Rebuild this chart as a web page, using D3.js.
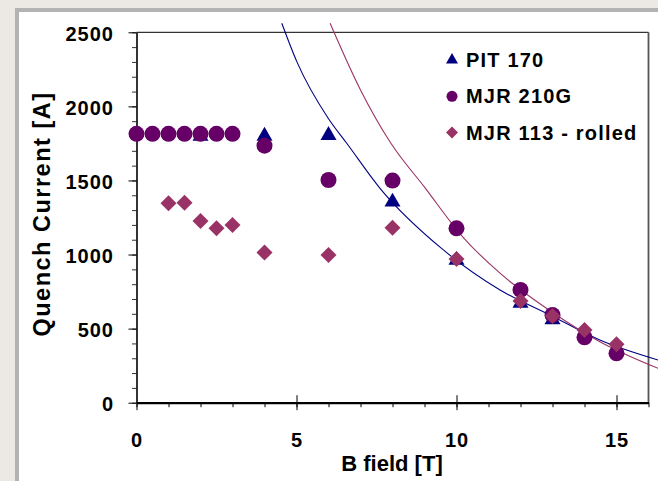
<!DOCTYPE html>
<html>
<head>
<meta charset="utf-8">
<script src="https://cdn.jsdelivr.net/npm/d3@7"></script>
<style>
  body { margin: 0; background: #ece9e5; }
  text { font-family: "Liberation Sans", Arial, sans-serif; font-weight: bold; fill: #000; }
</style>
</head>
<body>
<svg id="chart"></svg>
<script>
// measured points
const pitB = [2, 4, 6, 8, 10, 12, 13]
const pitI = [1800, 1800, 1805, 1355, 962, 672, 560]

const mjr210B = [0, 0.5, 1, 1.5, 2, 2.5, 3, 4, 6, 8, 10, 12, 13, 14, 15]
const mjr210I = [1815, 1815, 1815, 1815, 1815, 1815, 1815, 1735, 1503, 1499, 1177, 761, 592, 441, 333]

const mjr113B = [1, 1.5, 2, 2.5, 3, 4, 6, 8, 10, 12, 13, 14, 15]
const mjr113I = [1346, 1350, 1227, 1177, 1200, 1013, 997, 1181, 970, 687, 585, 491, 394]

// trend lines
const pitFitB = [4.54, 5.01, 5.99, 6.57, 7.61, 9.59, 11.36, 12.92, 14.48, 16.3]
const pitFitI = [2561, 2302, 1920, 1751, 1447, 1031, 761, 592, 423, 288]
const mjr113FitB = [6.05, 7.0, 7.95, 9.0, 10.2, 11.36, 12.97, 14.48, 16.3]
const mjr113FitI = [2561, 2111, 1751, 1455, 1118, 874, 614, 412, 232]

const yTicks = [0, 500, 1000, 1500, 2000, 2500]
const xTicks = [0, 5, 10, 15]
const legendNames = ["PIT 170", "MJR 210G", "MJR 113 - rolled"]

const width = 658, height = 481
const navy = "#000080", plum = "#660066", rose = "#993366"

const svg = d3.select("#chart").attr("width", width).attr("height", height)

// outer panel with gray frame
svg.append("rect").attr("x", 0).attr("y", 0).attr("width", width).attr("height", height).attr("fill", "#ece9e5")
svg.append("rect").attr("x", 17).attr("y", 10).attr("width", 700).attr("height", 500)
  .attr("fill", "#fff").attr("stroke", "#b3b3b3").attr("stroke-width", 4)

const x = d3.scaleLinear().domain([0, 16]).range([136.5, 648.5])
const y = d3.scaleLinear().domain([0, 2500]).range([402.7, 32.3])

// plot border top / right
svg.append("line").attr("x1", x(0)).attr("x2", x(16)).attr("y1", y(2500)).attr("y2", y(2500)).attr("stroke", "#000").attr("stroke-width", 1)
svg.append("line").attr("x1", x(16)).attr("x2", x(16)).attr("y1", y(2500)).attr("y2", y(0)).attr("stroke", "#555").attr("stroke-width", 1.8)

// y axis: minor ticks then major
svg.append("g").attr("transform", `translate(${x(0)},0)`)
  .call(d3.axisLeft(y).tickValues(d3.range(0, 2501, 100)).tickSize(4.5).tickSizeOuter(0).tickFormat(""))
  .call(g => g.select(".domain").remove())
  .selectAll("line").attr("stroke", "#333")
const yAxis = svg.append("g").attr("transform", `translate(${x(0)},0)`)
  .call(d3.axisLeft(y).tickValues(yTicks).tickSize(8).tickSizeOuter(0).tickFormat(d3.format("d")))
yAxis.select(".domain").attr("stroke-width", 1.6)
yAxis.selectAll("text").attr("x", -22.5).attr("dy", "0.4em").attr("font-size", 20).style("letter-spacing", "1px")
  .attr("font-family", null)

// x axis
svg.append("g").attr("transform", `translate(0,${y(0)})`)
  .call(d3.axisBottom(x).tickValues(d3.range(0, 17, 1)).tickSize(4.5).tickSizeOuter(0).tickFormat(""))
  .call(g => g.select(".domain").remove())
const xAxis = svg.append("g").attr("transform", `translate(0,${y(0)})`)
  .call(d3.axisBottom(x).tickValues(xTicks).tickSize(7.5).tickSizeOuter(0).tickFormat(d3.format("d")))
xAxis.select(".domain").attr("stroke-width", 2.2)
xAxis.selectAll(".tick line").attr("y1", d => d === 0 ? 0 : -7.5)
xAxis.selectAll("text").attr("y", 44).attr("dy", 0).attr("font-size", 20).style("letter-spacing", "1px")
  .attr("font-family", null)

// titles
svg.append("text").attr("x", 392).attr("y", 471).attr("text-anchor", "middle").attr("font-size", 22)
  .text("B field [T]")
svg.append("text").attr("transform", "translate(50,214) rotate(-90)").attr("text-anchor", "middle")
  .attr("font-size", 23.5).style("letter-spacing", "1.5px").text("Quench Current [A]")

// trend lines
var lineGen = d3.line().x(d => x(d[0])).y(d => y(d[1])).curve(d3.curveMonotoneX)
svg.append("path").attr("d", lineGen(d3.zip(pitFitB, pitFitI))).attr("fill", "none").attr("stroke", navy).attr("stroke-width", 1.1)
svg.append("path").attr("d", lineGen(d3.zip(mjr113FitB, mjr113FitI))).attr("fill", "none").attr("stroke", rose).attr("stroke-width", 1.1)

// markers
const tri = d3.symbol().type(d3.symbolTriangle).size(111)
const dot = d3.symbol().type(d3.symbolCircle).size(201)
const dia = d3.symbol().type(d3.symbolSquare).size(128)

svg.selectAll(".pit").data(d3.zip(pitB, pitI)).join("path").attr("class", "pit")
  .attr("d", tri).attr("fill", navy).attr("transform", d => `translate(${x(d[0])},${y(d[1])})`)
svg.selectAll(".mjr210").data(d3.zip(mjr210B, mjr210I)).join("path").attr("class", "mjr210")
  .attr("d", dot).attr("fill", plum).attr("transform", d => `translate(${x(d[0])},${y(d[1])})`)
svg.selectAll(".mjr113").data(d3.zip(mjr113B, mjr113I)).join("path").attr("class", "mjr113")
  .attr("d", dia).attr("fill", rose).attr("transform", d => `translate(${x(d[0])},${y(d[1])}) rotate(45)`)

// legend
const legendSymbols = [
  d3.symbol().type(d3.symbolTriangle).size(62),
  d3.symbol().type(d3.symbolCircle).size(95),
  d3.symbol().type(d3.symbolSquare).size(72)
]
const legendColors = [navy, plum, rose]
const legend = svg.selectAll(".legend").data(legendNames).join("g").attr("class", "legend")
  .attr("transform", (d, i) => `translate(452,${60 + i * 36.3})`)
legend.append("path").attr("d", (d, i) => legendSymbols[i]()).attr("fill", (d, i) => legendColors[i])
  .attr("transform", (d, i) => i === 2 ? "rotate(45)" : null)
legend.append("text").attr("x", 14).attr("y", 7).attr("font-size", 20).style("letter-spacing", "1.2px").text(d => d)
</script>
</body>
</html>
